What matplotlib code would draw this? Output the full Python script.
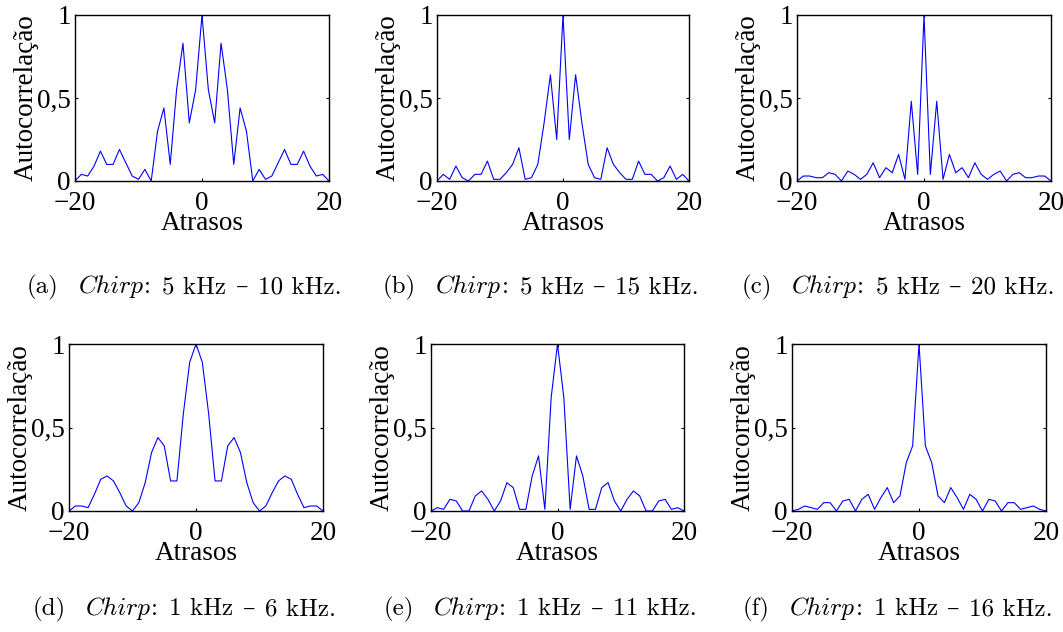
import numpy as np
import matplotlib
matplotlib.use("Agg")
import matplotlib.pyplot as plt

lags = list(range(-20, 21))

# Half of each symmetric autocorrelation (lags -20 .. 0)
half_a = [0.00, 0.04, 0.03, 0.09, 0.18, 0.10, 0.10, 0.19, 0.11, 0.03, 0.01,
          0.07, 0.00, 0.30, 0.44, 0.10, 0.55, 0.83, 0.35, 0.55, 1.00]
half_b = [0.00, 0.04, 0.01, 0.09, 0.02, 0.00, 0.04, 0.04, 0.12, 0.01, 0.01,
          0.05, 0.10, 0.20, 0.01, 0.02, 0.10, 0.35, 0.64, 0.25, 1.00]
half_c = [0.00, 0.03, 0.03, 0.02, 0.02, 0.05, 0.04, 0.00, 0.06, 0.04, 0.01,
          0.04, 0.11, 0.02, 0.08, 0.05, 0.16, 0.01, 0.48, 0.04, 1.00]
half_d = [0.00, 0.03, 0.03, 0.02, 0.10, 0.19, 0.21, 0.18, 0.11, 0.03, 0.00,
          0.05, 0.17, 0.35, 0.44, 0.39, 0.18, 0.18, 0.58, 0.89, 1.00]
half_e = [0.00, 0.02, 0.01, 0.07, 0.06, 0.00, 0.00, 0.09, 0.12, 0.07, 0.00,
          0.06, 0.17, 0.14, 0.01, 0.01, 0.21, 0.33, 0.01, 0.68, 1.00]
half_f = [0.00, 0.01, 0.03, 0.02, 0.01, 0.05, 0.05, 0.00, 0.06, 0.07, 0.00,
          0.07, 0.10, 0.01, 0.08, 0.14, 0.05, 0.09, 0.29, 0.39, 1.00]

series = [half_a, half_b, half_c, half_d, half_e, half_f]
cap_labels = ["(a)", "(b)", "(c)", "(d)", "(e)", "(f)"]
cap_low = ["5 kHz", "5 kHz", "5 kHz", "1 kHz", "1 kHz", "1 kHz"]
cap_high = ["10 kHz.", "15 kHz.", "20 kHz.", "6 kHz.", "11 kHz.", "16 kHz."]
xticks = [-20, 0, 20]
xticklabels = ["\u221220", "0", "20"]
yticks = [0, 0.5, 1]
yticklabels = ["0", "0,5", "1"]

W, H = 1063, 632
fig = plt.figure(figsize=(W / 100, H / 100), dpi=100)

# axes boxes in pixels: left, right, top, bottom
boxes = [
    (75, 329, 15, 181), (437, 689, 15, 181), (797, 1051, 15, 181),
    (69, 323, 344, 511), (431, 684, 344, 511), (792, 1046, 344, 511),
]
cap_pos = [(184, 293), (541, 293), (898, 293), (184, 615), (540, 615), (898, 615)]

FS = 19.5
tick_font = dict(family='Liberation Serif', size=FS)

for i, (half, box) in enumerate(zip(series, boxes)):
    l, r, t, b = box
    hgt = b - t
    wid = r - l
    ax = fig.add_axes([l / W, 1 - b / H, wid / W, hgt / H])
    vals = half + half[-2::-1]
    ax.plot(lags, vals, color='#0000ff', lw=0.8)
    ax.set_xlim(-20, 20)
    ax.set_ylim(0, 1)
    ax.set_xticks(xticks)
    ax.set_xticklabels(xticklabels, fontdict=tick_font)
    ax.set_yticks(yticks)
    ax.set_yticklabels(yticklabels, fontdict=tick_font)
    ax.tick_params(direction='in', length=2.5, width=0.8, top=True, right=True)
    ax.tick_params(axis='x', pad=7.5)
    ax.tick_params(axis='y', pad=3)
    for s in ax.spines.values():
        s.set_linewidth(1.0)
    ax.set_xlabel("Atrasos", fontdict=tick_font)
    ax.set_ylabel("Autocorrelação", fontdict=tick_font)
    ax.xaxis.set_label_coords(0.5, -30 / hgt)
    ax.yaxis.set_label_coords(-36.5 / wid, 0.5)

renderer = fig.canvas.get_renderer()
CS = 18
em = CS * 100 / 72
RM = ['cmr10']
IT = ['cmmi10']
DASH = ['DejaVu Serif']


def caption(cx, cy, pieces):
    items = []
    for s, fam, gap in pieces:
        txt = fig.text(0, 0, s, family=fam, fontsize=CS, ha='left', va='baseline')
        w = txt.get_window_extent(renderer).width
        items.append((txt, w, gap * em))
    total = sum(w + g for _, w, g in items) - items[-1][2]
    x = cx - total / 2
    for txt, w, g in items:
        txt.set_position((x / W, 1 - cy / H))
        x += w + g


for i in range(6):
    cx, cy = cap_pos[i]
    caption(cx, cy, [
        (cap_labels[i], RM, 0.8),
        ("Chirp", IT, 0.02),
        (":", RM, 0.45),
        (cap_low[i], RM, 0.38),
        ("\u2013", DASH, 0.38),
        (cap_high[i], RM, 0.0),
    ])

fig.savefig("out.png", dpi=100)
